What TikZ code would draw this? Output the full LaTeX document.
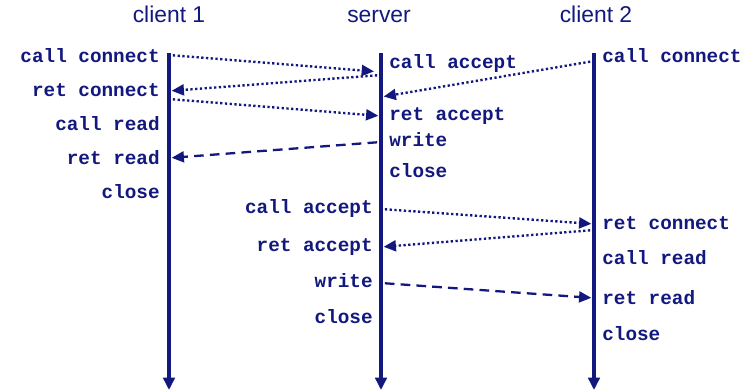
\documentclass[tikz,border=0pt]{standalone}
\usepackage{fontspec}
\setmainfont{Liberation Sans}
\newfontfamily\codefont{Liberation Mono}
\usetikzlibrary{arrows.meta}
\definecolor{navy}{RGB}{18,24,125}

\begin{document}
\begin{tikzpicture}[
    x=0.02cm, y=-0.02cm,
    title/.style={text=navy, font=\fontsize{13}{15}\selectfont},
    call/.style={text=navy, font=\codefont\bfseries\fontsize{11}{13}\selectfont, inner sep=0pt},
    lifeline/.style={draw=navy, line width=1.8pt, -{Triangle[length=7pt, width=6.5pt]}},
    msg/.style={draw=navy, line width=1.35pt, dash pattern=on 1.3pt off 1.4pt, -{Triangle[length=7pt, width=6.2pt]}, shorten >=1.5pt, shorten <=2.2pt},
    reply/.style={draw=navy, line width=1.3pt, dash pattern=on 5.5pt off 3.5pt, -{Triangle[length=7pt, width=6.2pt]}, shorten >=1.5pt, shorten <=2.2pt}
]
\useasboundingbox (0,0) rectangle (754,392);

% Titles
\node[title, anchor=base] (t1) at (169,22) {client 1};
\node[title, anchor=base] (ts) at (379,22) {server};
\node[title, anchor=base] (t2) at (596,22) {client 2};

% Lifelines
\coordinate (c1top) at (169,53);
\coordinate (c1end) at (169,390);
\coordinate (stop) at (381,53);
\coordinate (send) at (381,390);
\coordinate (c2top) at (594,53);
\coordinate (c2end) at (594,390);
\draw[lifeline] (c1top) -- (c1end);
\draw[lifeline] (stop) -- (send);
\draw[lifeline] (c2top) -- (c2end);

% Client 1 events
\node[call, anchor=base east] (c1l1) at (160,62) {call connect};
\node[call, anchor=base east] (c1l2) at (160,96) {ret connect};
\node[call, anchor=base east] (c1l3) at (160,130) {call read};
\node[call, anchor=base east] (c1l4) at (160,164) {ret read};
\node[call, anchor=base east] (c1l5) at (160,198) {close};

% Server events
\node[call, anchor=base west] (sl1) at (389,68) {call accept};
\node[call, anchor=base west] (sl2) at (389,120) {ret accept};
\node[call, anchor=base west] (sl3) at (389,146) {write};
\node[call, anchor=base west] (sl4) at (389,177) {close};
\node[call, anchor=base east] (sl5) at (373,213) {call accept};
\node[call, anchor=base east] (sl6) at (373,251) {ret accept};
\node[call, anchor=base east] (sl7) at (373,287) {write};
\node[call, anchor=base east] (sl8) at (373,323) {close};

% Client 2 events
\node[call, anchor=base west] (c2l1) at (602,62) {call connect};
\node[call, anchor=base west] (c2l2) at (602,229) {ret connect};
\node[call, anchor=base west] (c2l3) at (602,264) {call read};
\node[call, anchor=base west] (c2l4) at (602,304) {ret read};
\node[call, anchor=base west] (c2l5) at (602,340) {close};

% Message points
\coordinate (c1conn) at (169,55);
\coordinate (sacc1) at (381,72);
\coordinate (sret1) at (381,75);
\coordinate (c1ret) at (169,91);
\coordinate (c1go) at (169,99);
\coordinate (sretacc1) at (381,116);
\coordinate (c2conn) at (594,61);
\coordinate (sconn2) at (381,97);
\coordinate (swrite1) at (381,142);
\coordinate (c1read) at (169,158);
\coordinate (sacc2) at (381,209);
\coordinate (c2ret) at (594,224);
\coordinate (c2go) at (594,230);
\coordinate (sretacc2) at (381,247);
\coordinate (swrite2) at (381,283);
\coordinate (c2read) at (594,298);

% Messages
\draw[msg, shorten >=4pt] (c1conn) -- (sacc1);
\draw[msg] (sret1) -- (c1ret);
\draw[msg] (c1go) -- (sretacc1);
\draw[msg] (c2conn) -- (sconn2);
\draw[reply] (swrite1) -- (c1read);
\draw[msg] (sacc2) -- (c2ret);
\draw[msg] (c2go) -- (sretacc2);
\draw[reply] (swrite2) -- (c2read);
\end{tikzpicture}
\end{document}
